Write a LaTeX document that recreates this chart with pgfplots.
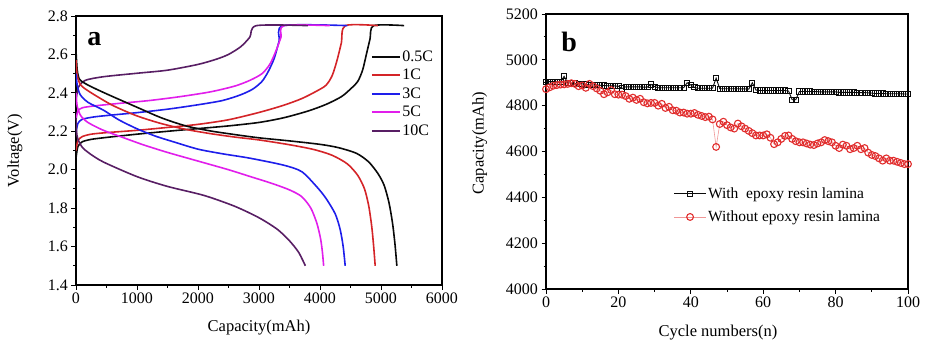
\documentclass[border=0pt]{standalone}
\usepackage{fontspec}
\setmainfont{Liberation Serif}
\usepackage{pgfplots}
\pgfplotsset{compat=1.18}
\definecolor{cBlack}{RGB}{10,10,10}
\definecolor{cRed}{RGB}{212,36,40}
\definecolor{cBlue}{RGB}{30,30,235}
\definecolor{cMag}{RGB}{225,30,235}
\definecolor{cPur}{RGB}{88,30,100}
\definecolor{cRedLine}{RGB}{240,150,150}
\definecolor{cRedMark}{RGB}{225,45,45}
\pgfplotsset{
  myax/.style={
    scale only axis,
    anchor=south west,
    tick align=outside,
    xtick pos=bottom, ytick pos=left,
    minor x tick num=1, minor y tick num=1,
    major tick length=4.5pt, minor tick length=2.5pt,
    every tick/.style={black, line width=0.9pt},
    axis line style={black, line width=1.2pt},
    /pgf/number format/assume math mode=true,
    tick label style={font=\fontsize{16}{18}\selectfont},
    label style={font=\fontsize{16.5}{19}\selectfont},
    clip=true,
  }
}
\pgfplotstableread{
c v
0 4905
1 4905
2 4905
3 4903
4 4903
5 4928
6 4900
7 4898
8 4897
9 4896
10 4895
11 4893
12 4892
13 4890
14 4890
15 4889
16 4888
17 4887
18 4887
19 4886
20 4885
21 4875
22 4882
23 4882
24 4882
25 4882
26 4882
27 4881
28 4881
29 4893
30 4883
31 4878
32 4878
33 4878
34 4878
35 4878
36 4878
37 4878
38 4878
39 4900
40 4890
41 4880
42 4876
43 4876
44 4876
45 4876
46 4876
47 4920
48 4874
49 4874
50 4874
51 4874
52 4874
53 4874
54 4873
55 4873
56 4872
57 4900
58 4868
59 4866
60 4866
61 4866
62 4866
63 4866
64 4866
65 4866
66 4866
67 4864
68 4826
69 4826
70 4862
71 4862
72 4862
73 4862
74 4861
75 4861
76 4860
77 4860
78 4860
79 4860
80 4860
81 4858
82 4858
83 4858
84 4858
85 4858
86 4857
87 4857
88 4857
89 4856
90 4855
91 4853
92 4853
93 4853
94 4852
95 4852
96 4852
97 4852
98 4852
99 4851
100 4851
}\tabWith
\pgfplotstableread{
c v
0 4872
1 4880
2 4887
3 4890
4 4892
5 4893
6 4895
7 4898
8 4895
9 4885
10 4888
11 4878
12 4895
13 4885
14 4875
15 4865
16 4850
17 4858
18 4868
19 4850
20 4848
21 4848
22 4842
23 4830
24 4835
25 4825
26 4830
27 4815
28 4810
29 4812
30 4812
31 4800
32 4808
33 4790
34 4795
35 4780
36 4778
37 4770
38 4770
39 4765
40 4765
41 4768
42 4760
43 4755
44 4750
45 4752
46 4740
47 4620
48 4720
49 4730
50 4715
51 4705
52 4700
53 4722
54 4710
55 4700
56 4690
57 4680
58 4670
59 4670
60 4670
61 4675
62 4660
63 4632
64 4640
65 4655
66 4668
67 4670
68 4655
69 4645
70 4640
71 4640
72 4635
73 4630
74 4628
75 4635
76 4640
77 4650
78 4645
79 4640
80 4625
81 4615
82 4630
83 4625
84 4610
85 4615
86 4625
87 4610
88 4615
89 4595
90 4585
91 4580
92 4570
93 4560
94 4570
95 4560
96 4560
97 4555
98 4550
99 4545
100 4545
}\tabWithout
\begin{document}
\begin{tikzpicture}[x=1pt,y=1pt]
\useasboundingbox (0,0) rectangle (940,354);
% ---------------- Panel a ----------------
\begin{axis}[myax,
  at={(76pt,69pt)}, width=366pt, height=269pt,
  xmin=0, xmax=6000, ymin=1.4, ymax=2.8,
  xtick={0,1000,2000,3000,4000,5000,6000},
  ytick={1.4,1.6,1.8,2.0,2.2,2.4,2.6,2.8},
  xticklabel style={/pgf/number format/1000 sep={}},
  yticklabel style={/pgf/number format/fixed, /pgf/number format/precision=1, /pgf/number format/fixed zerofill},
  xlabel={Capacity(mAh)}, ylabel={Voltage(V)},
  xlabel style={at={(axis description cs:0.5,-0.16)}, anchor=center},
  ylabel style={at={(axis description cs:-0.167,0.5)}, anchor=center},
  legend style={draw=none, fill=none, at={(axis description cs:0.805,0.878)}, anchor=north west,
    font=\fontsize{16}{18}\selectfont, row sep=3.5pt, inner sep=0pt,
    nodes={inner sep=1.5pt}},
  legend cell align=left,
  legend image code/.code={\draw[#1, line width=2pt] (0pt,0pt) -- (28pt,0pt);},
  every axis plot/.append style={line width=1.6pt, smooth, tension=0.45},
]
% charge curves
\addplot[cBlack] coordinates {(0,2.06) (30,2.12) (100,2.145) (250,2.158) (500,2.168) (1000,2.185) (1500,2.2) (2000,2.214) (2500,2.228) (3000,2.246) (3400,2.27) (3800,2.305) (4100,2.34) (4350,2.38) (4500,2.42) (4620,2.46) (4700,2.52) (4760,2.60) (4820,2.68) (4880,2.75) (5380,2.75)};
\addlegendentry{0.5C}
\addplot[cRed] coordinates {(0,2.10) (30,2.15) (100,2.172) (250,2.185) (500,2.193) (1000,2.205) (1500,2.22) (2000,2.236) (2500,2.26) (3000,2.298) (3400,2.335) (3700,2.37) (3950,2.41) (4100,2.44) (4200,2.49) (4280,2.57) (4350,2.66) (4415,2.75) (4950,2.75)};
\addlegendentry{1C}
\addplot[cBlue] coordinates {(0,2.19) (30,2.24) (100,2.262) (300,2.275) (600,2.285) (1000,2.297) (1500,2.315) (2000,2.338) (2400,2.36) (2700,2.39) (2900,2.42) (3050,2.46) (3150,2.51) (3250,2.58) (3330,2.67) (3400,2.75) (4450,2.75)};
\addlegendentry{3C}
\addplot[cMag] coordinates {(0,2.26) (30,2.305) (100,2.322) (300,2.332) (700,2.345) (1200,2.36) (1700,2.38) (2200,2.405) (2600,2.435) (2850,2.465) (3050,2.5) (3180,2.55) (3280,2.62) (3360,2.69) (3410,2.75) (4160,2.75)};
\addlegendentry{5C}
\addplot[cPur] coordinates {(0,2.36) (40,2.43) (150,2.465) (450,2.484) (1000,2.502) (1500,2.518) (2000,2.548) (2300,2.575) (2500,2.60) (2700,2.64) (2850,2.69) (2960,2.75) (3800,2.75)};
\addlegendentry{10C}
% discharge curves
\addplot[cBlack, forget plot] coordinates {(0,2.62) (20,2.52) (60,2.47) (200,2.44) (500,2.395) (1000,2.325) (1400,2.27) (1800,2.228) (2200,2.202) (2600,2.183) (3000,2.166) (3500,2.15) (4000,2.132) (4300,2.115) (4600,2.085) (4800,2.04) (4950,1.98) (5050,1.92) (5130,1.83) (5190,1.72) (5230,1.61) (5260,1.50)};
\addplot[cRed, forget plot] coordinates {(0,2.57) (20,2.49) (80,2.44) (250,2.40) (600,2.335) (1000,2.28) (1400,2.24) (1800,2.21) (2200,2.188) (2600,2.17) (3000,2.155) (3500,2.13) (3900,2.105) (4200,2.075) (4450,2.03) (4620,1.97) (4730,1.90) (4800,1.81) (4850,1.70) (4880,1.60) (4905,1.50)};
\addplot[cBlue, forget plot] coordinates {(0,2.50) (20,2.44) (70,2.39) (200,2.35) (450,2.31) (700,2.26) (1000,2.213) (1300,2.175) (1600,2.145) (2000,2.107) (2400,2.083) (2850,2.06) (3400,2.024) (3700,1.99) (3950,1.91) (4100,1.85) (4250,1.77) (4330,1.69) (4380,1.60) (4413,1.50)};
\addplot[cMag, forget plot] coordinates {(0,2.40) (20,2.33) (80,2.28) (200,2.245) (450,2.205) (750,2.17) (1100,2.13) (1500,2.09) (2000,2.045) (2500,2.0) (2850,1.965) (3200,1.93) (3500,1.895) (3700,1.86) (3850,1.80) (3950,1.72) (4010,1.64) (4040,1.57) (4060,1.50)};
\addplot[cPur, forget plot] coordinates {(0,2.27) (8,2.2) (30,2.16) (100,2.118) (220,2.085) (450,2.04) (1000,1.964) (1500,1.913) (2100,1.866) (2600,1.81) (3000,1.75) (3300,1.69) (3500,1.63) (3650,1.57) (3760,1.50)};
\node[font=\bfseries\fontsize{28}{30}\selectfont, anchor=center] at (rel axis cs:0.05,0.915) {a};
\end{axis}
% ---------------- Panel b ----------------
\begin{axis}[myax,
  at={(546pt,65pt)}, width=362pt, height=275pt,
  xmin=0, xmax=100, ymin=4000, ymax=5200,
  xtick={0,20,40,60,80,100},
  ytick={4000,4200,4400,4600,4800,5000,5200},
  yticklabel style={/pgf/number format/1000 sep={}},
  xlabel={Cycle numbers(n)}, ylabel={Capacity(mAh)},
  xlabel style={at={(axis description cs:0.475,-0.157)}, anchor=center},
  ylabel style={at={(axis description cs:-0.183,0.53)}, anchor=center},
  legend style={draw=none, fill=none, at={(axis description cs:0.352,0.375)}, anchor=north west,
    font=\fontsize{15.5}{18}\selectfont, row sep=8pt, inner sep=0pt,
    nodes={inner sep=1.5pt}},
  legend cell align=left,
  legend image code/.code={\draw[#1, mark repeat=2, mark phase=2] plot coordinates {(0pt,0pt) (16pt,0pt) (32pt,0pt)};},
]
\addplot[color=cBlack, line width=0.9pt, mark=square, mark size=2.6pt, mark options={fill=white, line width=0.9pt, solid}] table[x=c, y=v] {\tabWith};
\addlegendentry{With\ \ epoxy resin lamina}
\addplot[color=cRedLine, line width=0.6pt, mark=o, mark size=3.4pt, mark options={draw=cRedMark, fill=white, line width=1.1pt, solid}] table[x=c, y=v] {\tabWithout};
\addlegendentry{Without epoxy resin lamina}
\node[font=\bfseries\fontsize{28}{30}\selectfont, anchor=center] at (rel axis cs:0.064,0.90) {b};
\end{axis}
\end{tikzpicture}
\end{document}
